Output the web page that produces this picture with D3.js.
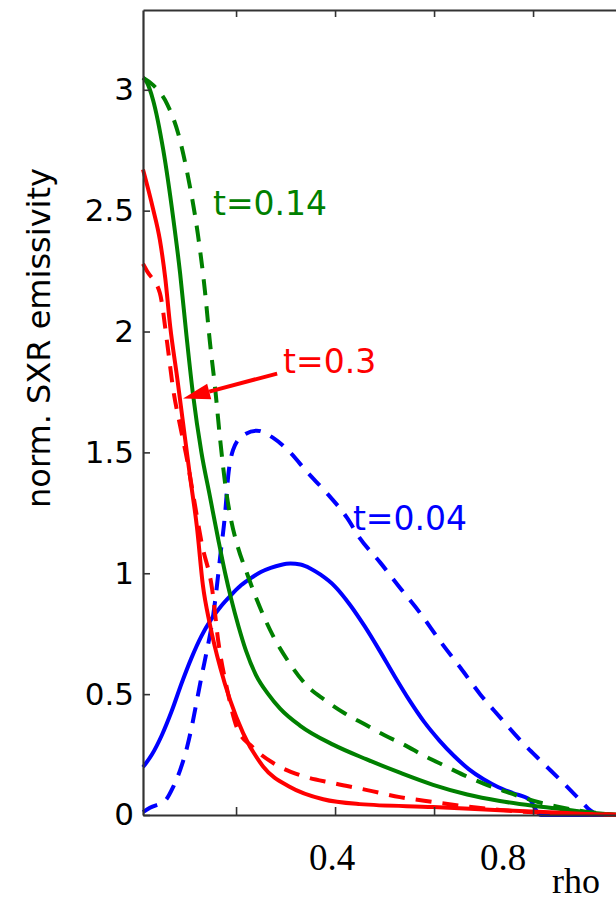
<!DOCTYPE html>
<html>
<head>
<meta charset="utf-8">
<script src="https://cdn.jsdelivr.net/npm/d3@7"></script>
<style>
  html, body { margin: 0; padding: 0; background: #fff; }
  svg { display: block; }
</style>
</head>
<body>
<svg id="chart" width="616" height="902"></svg>
<script>
// ---- data (rho, normalized SXR emissivity) ----
const blueSolid = [[0.012,0.198],[0.03,0.25],[0.05,0.33],[0.07,0.43],[0.09,0.545],[0.11,0.65],[0.13,0.74],[0.15,0.81],[0.17,0.865],[0.19,0.91],[0.21,0.95],[0.23,0.98],[0.25,1.005],[0.27,1.022],[0.29,1.034],[0.31,1.04],[0.33,1.036],[0.35,1.02],[0.37,0.995],[0.40,0.945],[0.43,0.87],[0.46,0.78],[0.49,0.68],[0.52,0.575],[0.55,0.475],[0.58,0.385],[0.61,0.31],[0.64,0.245],[0.67,0.19],[0.70,0.148],[0.73,0.115],[0.76,0.09],[0.794,0.062],[0.806,0.02],[0.816,0],[1.0,0]];
const blueDashed = [[0.012,0.012],[0.026,0.03],[0.057,0.06],[0.073,0.116],[0.087,0.186],[0.101,0.28],[0.113,0.39],[0.121,0.475],[0.131,0.58],[0.141,0.68],[0.152,0.8],[0.158,0.89],[0.168,1.07],[0.178,1.25],[0.184,1.40],[0.194,1.51],[0.214,1.57],[0.242,1.59],[0.275,1.56],[0.309,1.50],[0.343,1.42],[0.384,1.33],[0.424,1.23],[0.45,1.145],[0.491,1.045],[0.531,0.94],[0.572,0.835],[0.612,0.72],[0.653,0.61],[0.693,0.50],[0.733,0.405],[0.774,0.31],[0.814,0.227],[0.855,0.145],[0.895,0.062],[0.915,0.02],[0.935,0],[1.0,0]];
const greenSolid = [[0.012,3.05],[0.02,3.03],[0.032,2.96],[0.053,2.75],[0.073,2.47],[0.087,2.24],[0.1,1.98],[0.113,1.74],[0.13,1.5],[0.147,1.32],[0.164,1.14],[0.178,1.0],[0.19,0.895],[0.205,0.78],[0.22,0.68],[0.24,0.58],[0.265,0.5],[0.289,0.44],[0.329,0.37],[0.397,0.29],[0.464,0.23],[0.531,0.175],[0.598,0.125],[0.667,0.085],[0.733,0.058],[0.8,0.038],[0.869,0.022],[0.915,0.01],[0.96,0.002],[1.0,0]];
const greenDashed = [[0.012,3.05],[0.032,3.02],[0.061,2.94],[0.083,2.82],[0.103,2.64],[0.123,2.40],[0.137,2.17],[0.147,1.96],[0.158,1.76],[0.168,1.55],[0.18,1.34],[0.19,1.22],[0.202,1.12],[0.222,1.0],[0.242,0.89],[0.275,0.74],[0.309,0.625],[0.343,0.535],[0.38,0.475],[0.42,0.42],[0.46,0.375],[0.50,0.33],[0.54,0.29],[0.58,0.245],[0.62,0.205],[0.66,0.165],[0.70,0.13],[0.74,0.1],[0.78,0.072],[0.82,0.048],[0.86,0.03],[0.90,0.016],[0.94,0.006],[0.97,0.001],[1.0,0]];
const redSolid = [[0.012,2.67],[0.032,2.51],[0.046,2.38],[0.057,2.22],[0.067,2.02],[0.081,1.81],[0.093,1.62],[0.107,1.40],[0.121,1.19],[0.133,0.95],[0.147,0.79],[0.168,0.61],[0.188,0.475],[0.214,0.34],[0.255,0.20],[0.309,0.116],[0.376,0.065],[0.45,0.045],[0.598,0.033],[0.733,0.02],[0.869,0.008],[0.95,0.002],[1.0,0]];
const redDashed = [[0.012,2.28],[0.02,2.25],[0.046,2.16],[0.061,1.95],[0.073,1.76],[0.087,1.61],[0.101,1.47],[0.113,1.33],[0.131,1.12],[0.152,0.93],[0.164,0.72],[0.182,0.52],[0.202,0.36],[0.234,0.28],[0.275,0.215],[0.329,0.165],[0.396,0.132],[0.465,0.103],[0.531,0.074],[0.598,0.054],[0.667,0.035],[0.733,0.021],[0.834,0.008],[0.935,0.002],[1.0,0]];

const seriesNames = ["t=0.04 solid","t=0.04 dashed","t=0.14 solid","t=0.14 dashed","t=0.3 solid","t=0.3 dashed"];
const seriesData = [blueSolid, blueDashed, greenSolid, greenDashed, redSolid, redDashed];
const seriesColors = ["#0000ff","#0000ff","#008000","#008000","#ff0000","#ff0000"];
const seriesDashed = [false,true,false,true,false,true];

const yTicks = [0, 0.5, 1, 1.5, 2, 2.5, 3];
const xTicks = [0.2, 0.4, 0.6, 0.8, 1.0];
const xTickLabels = ["0.4", "0.8"];
const xTickLabelValues = [0.4, 0.8];
const yLabel = "norm. SXR emissivity";
const xLabel = "rho";

// annotations: text and anchor (rho, value)
const annTexts = ["t=0.14", "t=0.3", "t=0.04"];
const annPos = [[0.1535, 2.48], [0.295, 1.83], [0.436, 1.178]];
const annColors = ["#008000", "#ff0000", "#0000ff"];
const arrowFrom = [0.283, 1.826];
const arrowTo = [0.093, 1.723];

// ---- layout ----
const svg = d3.select("#chart");
svg.append("rect").attr("width", 616).attr("height", 902).attr("fill", "#fff");

const x = d3.scaleLinear().domain([0.012, 1.0]).range([143, 143 + 0.988 * 495]);
const y = d3.scaleLinear().domain([0, 3.33]).range([815, 10]);

const axisColor = "#333";

// curves
const line = d3.line().x(d => x(d[0])).y(d => y(d[1])).curve(d3.curveMonotoneX);
seriesData.forEach((s, i) => {
  svg.append("path")
    .datum(s)
    .attr("d", line)
    .attr("fill", "none")
    .attr("stroke", seriesColors[i])
    .attr("stroke-width", 4)
    .attr("stroke-linejoin", "round")
    .attr("stroke-linecap", "butt")
    .attr("stroke-dasharray", seriesDashed[i] ? "16,11" : null);
});

// axes
const gBottom = svg.append("g").attr("transform", "translate(0,815)")
  .call(d3.axisBottom(x).tickValues(xTicks).tickSize(-8).tickSizeOuter(0).tickFormat(""));
const gTop = svg.append("g").attr("transform", "translate(0,10)")
  .call(d3.axisTop(x).tickValues(xTicks).tickSize(-7).tickSizeOuter(0).tickFormat(""));
const gLeft = svg.append("g").attr("transform", "translate(143,0)")
  .call(d3.axisLeft(y).tickValues(yTicks).tickSize(-7).tickSizeOuter(0).tickPadding(9).tickFormat(d3.format("~g")));

[gBottom, gTop, gLeft].forEach(g => {
  g.select(".domain").attr("stroke", axisColor).attr("stroke-width", 2.2);
  g.selectAll(".tick line").attr("stroke", axisColor).attr("stroke-width", 1.6);
});
gLeft.selectAll(".tick text")
  .attr("fill", "#000")
  .attr("font-family", "'DejaVu Sans', sans-serif")
  .attr("font-size", 31);

// bottom tick labels (serif, hand-placed as in figure)
const xLabelOffsets = [-3, -30];
svg.selectAll(".xlab").data(xTickLabels).enter().append("text")
  .attr("class", "xlab")
  .attr("x", (d, i) => x(xTickLabelValues[i]) + xLabelOffsets[i])
  .attr("y", 870)
  .attr("text-anchor", "middle")
  .attr("font-family", "'Liberation Serif', 'Times New Roman', serif")
  .attr("font-size", 37)
  .attr("fill", "#000")
  .text(d => d);

svg.append("text")
  .attr("x", 552).attr("y", 893)
  .attr("font-family", "'Liberation Serif', 'Times New Roman', serif")
  .attr("font-size", 36)
  .attr("fill", "#000")
  .text(xLabel);

// y label
svg.append("text")
  .attr("transform", "translate(50,338) rotate(-90)")
  .attr("text-anchor", "middle")
  .attr("font-family", "'DejaVu Sans', sans-serif")
  .attr("font-size", 32)
  .attr("fill", "#000")
  .text(yLabel);

// annotations
annTexts.forEach((t, i) => {
  svg.append("text")
    .attr("x", x(annPos[i][0]))
    .attr("y", y(annPos[i][1]))
    .attr("font-family", "'DejaVu Sans', sans-serif")
    .attr("font-size", 33)
    .attr("fill", annColors[i])
    .text(t);
});

// arrow
const ax0 = x(arrowFrom[0]), ay0 = y(arrowFrom[1]);
const ax1 = x(arrowTo[0]), ay1 = y(arrowTo[1]);
const ang = Math.atan2(ay1 - ay0, ax1 - ax0);
const headLen = 27, headHalf = 8;
const bx = ax1 - headLen * Math.cos(ang), by = ay1 - headLen * Math.sin(ang);
svg.append("line")
  .attr("x1", ax0).attr("y1", ay0).attr("x2", bx).attr("y2", by)
  .attr("stroke", "#ff0000").attr("stroke-width", 4);
svg.append("path")
  .attr("d", `M${ax1},${ay1} L${bx + headHalf * Math.sin(ang)},${by - headHalf * Math.cos(ang)} L${bx - headHalf * Math.sin(ang)},${by + headHalf * Math.cos(ang)} Z`)
  .attr("fill", "#ff0000");
</script>
</body>
</html>
